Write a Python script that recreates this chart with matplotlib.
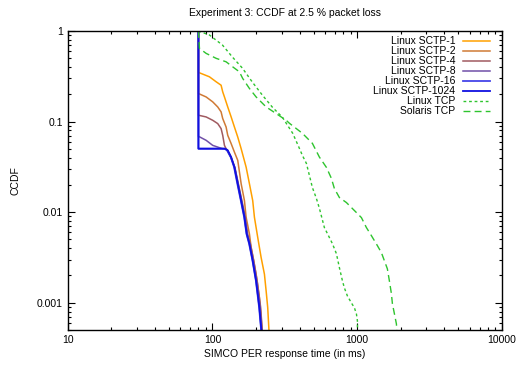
import matplotlib
matplotlib.use("Agg")
import matplotlib.pyplot as plt
from matplotlib.ticker import FixedLocator, FixedFormatter, LogLocator, NullFormatter

plt.rcParams['font.family'] = ['Liberation Sans', 'DejaVu Sans']

# response time (ms) and CCDF values
sctp1_x = [80, 80, 95.3, 106, 114.7, 117.7, 121, 127.5, 134.6, 141.8, 149.5, 157.8,
           170.8, 180, 189.7, 194.9, 205.4, 216.8, 228.5, 234.8, 240.8, 247.4]
sctp1_y = [1, 0.349, 0.312, 0.275, 0.252, 0.213, 0.187, 0.145, 0.1125, 0.0871, 0.0675, 0.0502,
           0.0314, 0.0206, 0.0134, 0.00879, 0.00527, 0.00316, 0.00207, 0.00135, 0.000885, 0.0004]

sctp2_x = [80, 80, 90.4, 100.4, 108.7, 114.7, 117.7, 124.2, 127.5, 134.6, 141.8, 149.5,
           157.8, 166.3, 170.8, 180, 185, 200.2, 211, 216.8, 222.4]
sctp2_y = [1, 0.204, 0.187, 0.165, 0.145, 0.128, 0.108, 0.0871, 0.0705, 0.0571, 0.046, 0.0373,
           0.0206, 0.0134, 0.00879, 0.00575, 0.00409, 0.00207, 0.00114, 0.000686, 0.0004]

sctp4_x = [80, 80, 90.4, 100.4, 108.7, 114.7, 117.7, 121, 124.2, 127.5, 135, 143, 151,
           160, 169, 175, 183, 193, 204, 215, 223]
sctp4_y = [1, 0.1175, 0.1125, 0.1033, 0.095, 0.0837, 0.0705, 0.0546, 0.0502, 0.048, 0.040,
           0.031, 0.0205, 0.0132, 0.0086, 0.0057, 0.0044, 0.0029, 0.0017, 0.0009, 0.0004]

sctp8_x = [80, 80, 90.4, 100.4, 111.7, 117.7, 124, 126, 133.5, 142.5, 150.5, 159, 167.5,
           174, 181, 191, 202, 213, 221]
sctp8_y = [1, 0.0688, 0.0621, 0.0546, 0.0515, 0.0502, 0.0498, 0.048, 0.0405, 0.0312, 0.0205,
           0.0133, 0.0087, 0.0057, 0.0045, 0.0029, 0.0017, 0.0009, 0.0004]

sctp16_x = [80, 80, 121, 126.5, 133.8, 141, 148.5, 157, 165.5, 171.8, 179, 189, 199.5, 210, 219.5]
sctp16_y = [1, 0.0502, 0.0502, 0.0481, 0.0405, 0.0314, 0.0206, 0.0134, 0.00879, 0.00575,
            0.00449, 0.00291, 0.00175, 0.000885, 0.0004]

sctp1024_x = [80, 80, 122, 127.5, 134.6, 141.8, 149.5, 157.8, 166.3, 172.5, 180, 189.7,
              200.2, 211, 220.3]
sctp1024_y = [1, 0.0502, 0.0502, 0.0481, 0.0405, 0.0314, 0.0206, 0.0134, 0.00879, 0.00575,
              0.00449, 0.00291, 0.00175, 0.000885, 0.0004]

linux_tcp_x = [80, 95.3, 117.2, 137.4, 161, 188.8, 221.4, 259.5, 304, 358.4, 398.6, 418,
               445.6, 467.4, 490, 522.5, 548, 593, 642.4, 673.8, 718, 753, 790, 815, 855,
               911, 956, 987, 1003, 1005]
linux_tcp_y = [1, 0.903, 0.70, 0.515, 0.389, 0.272, 0.1955, 0.144, 0.1116, 0.0742, 0.0506,
               0.0423, 0.0345, 0.0254, 0.0187, 0.01415, 0.011, 0.00676, 0.00524, 0.00449,
               0.00348, 0.00244, 0.00175, 0.00146, 0.00119, 0.000997, 0.00088, 0.000754,
               0.00063, 0.0004]

solaris_tcp_x = [80, 81.3, 90.4, 106, 124.2, 138, 153.5, 161.8, 180, 200.2, 234.8, 275.2,
                 322.7, 340, 418, 490, 548, 612.5, 663, 695.5, 753, 841.6, 911, 987, 1069,
                 1157, 1253, 1378, 1469, 1540, 1615, 1667, 1722, 1750, 1807, 1865, 1890]
solaris_tcp_y = [1, 0.643, 0.566, 0.499, 0.457, 0.402, 0.354, 0.299, 0.232, 0.187, 0.145,
                 0.1227, 0.1034, 0.0958, 0.0742, 0.0575, 0.0405, 0.0312, 0.0236, 0.0182,
                 0.0145, 0.01277, 0.01125, 0.0099, 0.0087, 0.00676, 0.0055, 0.00427, 0.00357,
                 0.00291, 0.00237, 0.00175, 0.00126, 0.000973, 0.000754, 0.000583, 0.0004]

x_ticks = [10, 100, 1000, 10000]
x_labels = ['10', '100', '1000', '10000']
y_ticks = [0.001, 0.01, 0.1, 1]
y_labels = ['0.001', '0.01', '0.1', '1']

fig = plt.figure(figsize=(5.18, 3.65), dpi=100)
ax = fig.add_axes([0.1307, 0.0959, 0.8384, 0.8192])

ax.plot(sctp1_x, sctp1_y, color='#ffa000', lw=1.1, label='Linux SCTP-1')
ax.plot(sctp2_x, sctp2_y, color='#d07a35', lw=1.1, label='Linux SCTP-2')
ax.plot(sctp4_x, sctp4_y, color='#a05a60', lw=1.1, label='Linux SCTP-4')
ax.plot(sctp8_x, sctp8_y, color='#7050a8', lw=1.1, label='Linux SCTP-8')
ax.plot(sctp16_x, sctp16_y, color='#4545e8', lw=1.3, label='Linux SCTP-16')
ax.plot(sctp1024_x, sctp1024_y, color='#1010e0', lw=1.3, label='Linux SCTP-1024')
ax.plot(linux_tcp_x, linux_tcp_y, color='#2ec42e', lw=1.0, dashes=(2, 2), label='Linux TCP')
ax.plot(solaris_tcp_x, solaris_tcp_y, color='#2ec42e', lw=1.0, dashes=(5, 3), label='Solaris TCP')

ax.set_xscale('log')
ax.set_yscale('log')
ax.set_xlim(10, 10000)
ax.set_ylim(0.0005, 1)

ax.xaxis.set_major_locator(FixedLocator(x_ticks))
ax.xaxis.set_major_formatter(FixedFormatter(x_labels))
ax.xaxis.set_minor_locator(LogLocator(base=10, subs=range(2, 10)))
ax.xaxis.set_minor_formatter(NullFormatter())
ax.yaxis.set_major_locator(FixedLocator(y_ticks))
ax.yaxis.set_major_formatter(FixedFormatter(y_labels))
ax.yaxis.set_minor_locator(LogLocator(base=10, subs=range(2, 10)))
ax.yaxis.set_minor_formatter(NullFormatter())

ax.tick_params(which='both', direction='in', top=True, right=True, labelsize=7.5, width=0.8)
ax.tick_params(which='major', length=5)
ax.tick_params(which='minor', length=2.5)
for s in ax.spines.values():
    s.set_linewidth(1.0)

ax.set_title('Experiment 3: CCDF at 2.5 % packet loss', fontsize=7.5, pad=11)
ax.set_xlabel('SIMCO PER response time (in ms)', fontsize=7.5, labelpad=3)
ax.set_ylabel('CCDF', fontsize=7.5, labelpad=12)

ax.legend(loc='upper right', bbox_to_anchor=(0.984, 1.0), frameon=False, markerfirst=False,
          fontsize=7.5, handlelength=2.6, labelspacing=0.0, borderaxespad=0.2,
          handletextpad=0.7, borderpad=0.3)

fig.savefig('out.png', dpi=100)
